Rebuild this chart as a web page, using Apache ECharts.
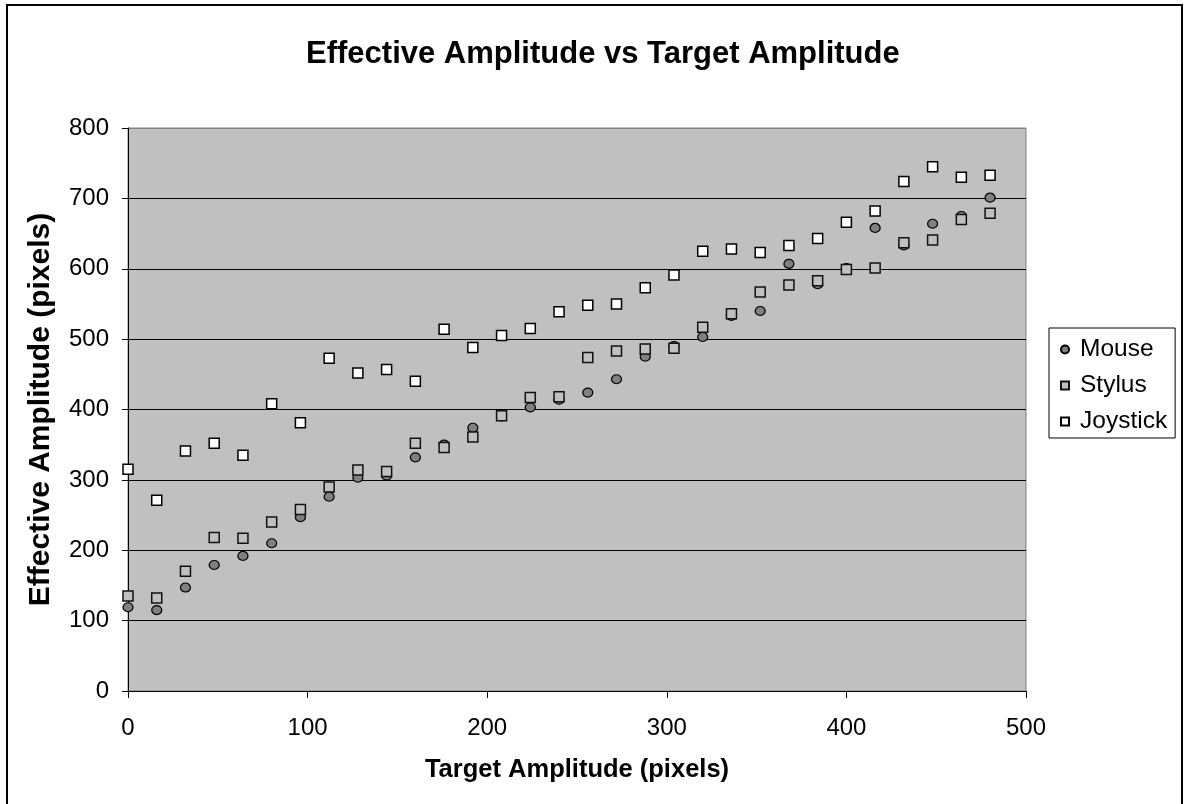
<!DOCTYPE html>
<html>
<head>
<meta charset="utf-8">
<title>Effective Amplitude vs Target Amplitude</title>
<script src="https://cdn.jsdelivr.net/npm/echarts@6/dist/echarts.min.js"></script>
<style>
    html, body { margin: 0; padding: 0; background: #fff; }
    #main { width: 1184px; height: 804px; }
</style>
</head>
<body>
<div id="main"></div>
<script>
    // target amplitude (x)
    let target = [0, 16, 32, 48, 64, 80, 96, 112, 128, 144, 160, 176, 192, 208, 224, 240,
        256, 272, 288, 304, 320, 336, 352, 368, 384, 400, 416, 432, 448, 464, 480];
    let mouse = [119, 115, 147, 179, 192, 210, 247, 276, 303, 306, 332, 350, 374, 390, 403, 414,
        424, 443, 475, 490, 503, 533, 540, 607, 578, 601, 658, 633, 664, 675, 701];
    let stylus = [135, 132, 170, 218, 217, 240, 258, 290, 314, 312, 352, 346, 361, 391, 417, 418,
        474, 483, 486, 487, 517, 536, 567, 577, 583, 599, 601, 637, 641, 670, 679];
    let joystick = [315, 271, 341, 352, 335, 408, 381, 473, 452, 457, 440, 514, 488, 505, 515, 539,
        548, 550, 573, 591, 625, 628, 623, 633, 643, 666, 682, 724, 745, 730, 733];

    let font = "'Liberation Sans', Arial, sans-serif";

    function pairs(ys) {
        return target.map(function (x, i) { return [x, ys[i]]; });
    }

    // gridlines black, the one at 800 sits on the grey plot border
    let gridColors = ['#000', '#000', '#000', '#000', '#000', '#000', '#000', '#000', '#808080'];

    var myChart = echarts.init(document.getElementById('main'));
    var option = {
        backgroundColor: '#fff',
        animation: false,
        title: {
            text: 'Effective Amplitude vs Target Amplitude',
            left: 301,
            top: 34,
            textStyle: { fontFamily: font, fontSize: 31, fontWeight: 'bold', color: '#000' }
        },
        graphic: [{
            type: 'rect',
            shape: { x: 7, y: 5, width: 1175, height: 830 },
            style: { fill: 'none', stroke: '#000', lineWidth: 2 },
            silent: true
        }],
        grid: {
            left: 128, top: 128, right: 158, bottom: 113,
            show: true,
            backgroundColor: '#C0C0C0',
            borderColor: '#808080',
            borderWidth: 1
        },
        legend: {
            orient: 'vertical',
            left: 1049,
            top: 328,
            data: ['Mouse', 'Stylus', 'Joystick'],
            itemWidth: 8,
            itemHeight: 8,
            itemGap: 11,
            padding: [9, 8, 4, 11],
            borderColor: '#000',
            borderWidth: 1,
            backgroundColor: '#fff',
            textStyle: { fontFamily: font, fontSize: 24.5, color: '#000', lineHeight: 24, padding: [0, 0, 0, 6] }
        },
        xAxis: {
            type: 'value',
            min: 0, max: 500, interval: 100,
            name: 'Target Amplitude (pixels)',
            nameLocation: 'middle',
            nameGap: 66,
            nameTextStyle: { fontFamily: font, fontSize: 25.5, fontWeight: 'bold', color: '#000' },
            axisLine: { show: true, onZero: false, lineStyle: { color: '#000', width: 1 } },
            axisTick: { show: true, inside: false, length: 7, lineStyle: { color: '#000' } },
            axisLabel: { fontFamily: font, fontSize: 24, color: '#000', margin: 25 },
            splitLine: { show: false }
        },
        yAxis: {
            type: 'value',
            min: 0, max: 800, interval: 100,
            name: 'Effective Amplitude (pixels)',
            nameLocation: 'middle',
            nameGap: 72,
            nameTextStyle: { fontFamily: font, fontSize: 30, fontWeight: 'bold', color: '#000' },
            axisLine: { show: true, onZero: false, lineStyle: { color: '#000', width: 1 } },
            axisTick: { show: true, inside: false, length: 6, lineStyle: { color: '#000' } },
            axisLabel: { fontFamily: font, fontSize: 24, color: '#000', margin: 19 },
            splitLine: { show: true, lineStyle: { color: gridColors, width: 1 } }
        },
        series: [{
            name: 'Mouse',
            type: 'scatter',
            symbol: 'circle',
            symbolSize: [10, 9],
            data: pairs(mouse),
            itemStyle: { color: '#808080', borderColor: '#000', borderWidth: 1.2, opacity: 1 }
        }, {
            name: 'Stylus',
            type: 'scatter',
            symbol: 'rect',
            symbolSize: 10,
            data: pairs(stylus),
            itemStyle: { color: '#C0C0C0', borderColor: '#111', borderWidth: 1.5, opacity: 1 }
        }, {
            name: 'Joystick',
            type: 'scatter',
            symbol: 'rect',
            symbolSize: 10,
            data: pairs(joystick),
            itemStyle: { color: '#fff', borderColor: '#000', borderWidth: 1.5, opacity: 1 }
        }]
    };
    myChart.setOption(option);
</script>
</body>
</html>
